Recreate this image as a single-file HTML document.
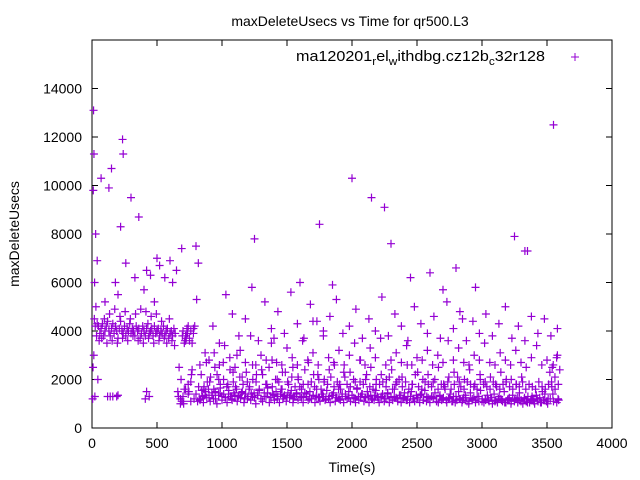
<!DOCTYPE html>
<html><head><meta charset="utf-8"><style>
body{margin:0;background:#fff;}
svg{display:block;font-family:"Liberation Sans",sans-serif;}
</style></head><body>
<svg id="chart" width="640" height="480" viewBox="0 0 640 480">
<text x="350" y="26" font-size="14" text-anchor="middle">maxDeleteUsecs vs Time for qr500.L3</text>
<rect x="92" y="40" width="520" height="388" fill="none" stroke="#000" stroke-width="1"/>
<g id="axes"></g>
<g id="marks"></g>
<text transform="translate(19,234) rotate(-90)" font-size="14" text-anchor="middle">maxDeleteUsecs</text>
<text x="352" y="472" font-size="14" text-anchor="middle">Time(s)</text>
<g>
<text x="296" y="61" font-size="15" textLength="249" lengthAdjust="spacingAndGlyphs">ma120201<tspan font-size="11" dy="4">r</tspan><tspan dy="-4">el</tspan><tspan font-size="11" dy="4">w</tspan><tspan dy="-4">ithdbg.cz12b</tspan><tspan font-size="11" dy="4">c</tspan><tspan dy="-4">32r128</tspan></text>
<path d="M571,57h8M575,53v8" stroke="#9400d3" stroke-width="1"/>
</g>
</svg>
<script>
const xTicks=[0,500,1000,1500,2000,2500,3000,3500,4000];
const yTicks=[0,2000,4000,6000,8000,10000,12000,14000];
const times=[5,10,12,15,18,20,22,25,28,30,8,14,35,40,45,
50,60,70,80,90,100,110,120,130,140,150,160,170,180,190,200,210,220,230,240,250,260,270,280,290,300,310,320,330,340,350,360,370,380,390,400,410,420,430,440,450,460,470,480,490,500,510,520,530,540,550,560,570,580,590,600,610,620,630,640,
55,75,95,115,135,155,175,195,215,235,255,275,295,315,335,355,375,395,415,435,455,475,495,515,535,555,575,595,615,635,
40,70,100,130,150,180,200,220,235,240,260,300,330,360,400,420,450,480,500,520,560,600,620,650,
120,140,160,190,200,410,420,440,
660,670,680,690,700,710,720,730,740,750,760,770,780,790,800,665,685,705,725,745,765,785,680,720,760,700,740,
800,825,850,875,900,925,950,975,1000,1025,1050,1075,1100,1125,1150,1175,1200,1225,1250,1275,1300,1325,1350,1375,1400,1425,1450,1475,1500,1525,1550,1575,1600,1625,1650,1675,1700,1725,1750,1775,1800,1825,1850,1875,1900,1925,1950,1975,2000,2025,2050,2075,2100,2125,2150,2175,2200,2225,2250,2275,2300,2325,2350,2375,2400,2425,2450,2475,2500,2525,2550,2575,2600,2625,2650,2675,2700,2725,2750,2775,2800,2825,2850,2875,2900,2925,2950,2975,3000,3025,3050,3075,3100,3125,3150,3175,3200,3225,3250,3275,3300,3325,3350,3375,3400,3425,3450,3475,3500,3525,3550,3575,3590,
812,837,862,887,912,937,962,987,1012,1037,1062,1087,1112,1137,1162,1187,1212,1237,1262,1287,1312,1337,1362,1387,1412,1437,1462,1487,1512,1537,1562,1587,1612,1637,1662,1687,1712,1737,1762,1787,1812,1837,1862,1887,1912,1937,1962,1987,2012,2037,2062,2087,2112,2137,2162,2187,2212,2237,2262,2287,2312,2337,2362,2387,2412,2437,2462,2487,2512,2537,2562,2587,2612,2637,2662,2687,2712,2737,2762,2787,2812,2837,2862,2887,2912,2937,2962,2987,3012,3037,3062,3087,3112,3137,3162,3187,3212,3237,3262,3287,3312,3337,3362,3387,3412,3437,3462,3487,3512,3537,3562,3587,
820,860,900,940,980,1020,1060,1100,1140,1180,1220,1260,1300,1340,1380,1420,1460,1500,1540,1580,1620,1660,1700,1740,1780,1820,1860,1900,1940,1980,2020,2060,2100,2140,2180,2220,2260,2300,2340,2380,2420,2460,2500,2540,2580,2620,2660,2700,2740,2780,2820,2860,2900,2940,2980,3020,3060,3100,3140,3180,3220,3260,3300,3340,3380,3420,3460,3500,3540,3580,
830,880,930,980,1030,1080,1130,1180,1230,1280,1330,1380,1430,1480,1530,1580,1630,1680,1730,1780,1830,1880,1930,1980,2030,2080,2130,2180,2230,2280,2330,2380,2430,2480,2530,2580,2630,2680,2730,2780,2830,2880,2930,2980,3030,3080,3130,3180,3230,3280,3330,3380,3430,3480,3530,3580,
1400,1700,2000,2150,2300,1750,2250,2800,3350,3330,3550,3250,2950,2450,2600,2850,1850,1250,1600,2700];
const values=[1200,9800,13100,11300,4500,6000,1300,4200,8000,5000,2500,3000,3800,4300,2000,
4200,3900,4100,4300,3800,4000,4200,4400,4000,3800,4100,4300,3900,4200,4000,3700,4100,4400,4000,3900,4200,3800,4100,4000,4300,3900,4100,4000,3800,4200,4000,4100,3700,3900,4200,4000,3800,4100,4300,3900,4000,4100,3800,4200,3900,4000,4100,3800,4000,3900,4200,3800,4000,4100,3700,3900,4000,3800,4100,3900,
3600,3700,4500,3500,4700,3600,4900,3500,4600,3700,4800,3600,4500,3800,4700,3600,4900,3500,4800,3700,4600,3500,4700,3600,4400,3700,3500,4500,3600,3400,
6900,10300,5200,9900,10700,6000,5500,8300,11900,11300,6800,9500,6200,8700,5700,6500,6300,5200,7000,6700,6200,6900,6000,6500,
1300,1300,1300,1300,1350,1200,1500,1300,
1500,2500,1200,7400,4000,3500,3800,4100,1800,3600,1100,2400,3900,4200,7500,1300,2000,1000,3700,1500,2200,1200,1000,1600,1900,1100,1400,
1400,1200,1300,1500,1250,1350,1200,1450,1300,1250,1400,1200,1350,1300,1450,1200,1300,1400,1250,1350,1200,1300,1450,1250,1350,1200,1400,1300,1250,1350,1200,1450,1300,1250,1400,1200,1350,1300,1250,1400,1200,1300,1350,1250,1200,1400,1300,1250,1350,1200,1300,1400,1250,1300,1200,1350,1250,1300,1200,1400,1250,1300,1200,1350,1250,1150,1300,1200,1250,1350,1150,1300,1200,1250,1100,1300,1200,1150,1250,1100,1300,1200,1150,1250,1100,1200,1150,1300,1100,1200,1150,1250,1100,1200,1150,1050,1200,1100,1150,1250,1100,1200,1050,1150,1100,1200,1050,1150,1100,1200,1100,1050,1150,1100,1200,
1700,1900,2100,1600,2200,1800,2000,1700,2400,1900,1600,2100,1800,2300,1700,2000,1900,1600,2200,1800,2500,1700,2000,1900,1600,2300,1800,2100,1700,2000,1600,2400,1800,1900,1700,2200,1600,2000,1800,2100,1700,1900,1600,2300,1800,1700,2000,1600,1900,1800,2200,1700,1600,2000,1800,1900,1700,2100,1600,1800,2000,1700,1900,1600,1800,2200,1700,1600,1900,1800,1700,2000,1600,1800,1700,1900,1600,1800,2100,1700,1600,1900,1800,1700,1600,2000,1800,1700,1600,1900,1700,1600,1800,2000,1700,1600,1800,1700,1900,1600,1800,1700,1600,1900,1700,1600,1800,1700,1600,1800,1700,1600,
2800,3100,2600,3400,2900,2500,3200,2700,3800,2600,3000,2800,3500,2700,2600,3300,2900,2600,3600,2800,3100,2600,4000,2900,2700,3200,2600,3000,3500,2800,2600,3300,2900,3700,2600,2800,3100,2700,3400,2600,2900,2800,3200,2600,3000,2700,3600,2800,3300,2700,2600,3000,2800,3500,2700,2600,3100,2800,2600,3200,2700,2500,2900,3400,2600,2800,2500,3000,2600,2700,
4200,3500,5500,4700,3800,4500,5800,3600,5200,4100,4800,3900,5600,4300,3700,5100,4400,3800,4600,5300,3900,4200,4900,3700,4500,4000,5400,3800,4700,4200,3600,5000,4300,3900,4600,3700,5200,4100,4800,3600,4400,3900,4700,3800,4300,5000,3700,4200,3600,4600,3900,4500,3800,4100,3700,4400,
10300,9500,7600,8400,9100,6600,7300,7300,12500,7900,5800,6200,6400,4500,5900,7800,6000,5700,5300,6800];
const bandTimes=[805,818,831,844,857,870,883,896,909,922,935,948,961,974,987,1000,1013,1026,1039,1052,1065,1078,1091,1104,1117,1130,1143,1156,1169,1182,1195,1208,1221,1234,1247,1260,1273,1286,1299,1312,1325,1338,1351,1364,1377,1390,1403,1416,1429,1442,1455,1468,1481,1494,1507,1520,1533,1546,1559,1572,1585,1598,1611,1624,1637,1650,1663,1676,1689,1702,1715,1728,1741,1754,1767,1780,1793,1806,1819,1832,1845,1858,1871,1884,1897,1910,1923,1936,1949,1962,1975,1988,2001,2014,2027,2040,2053,2066,2079,2092,2105,2118,2131,2144,2157,2170,2183,2196,2209,2222,2235,2248,2261,2274,2287,2300,2313,2326,2339,2352,2365,2378,2391,2404,2417,2430,2443,2456,2469,2482,2495,2508,2521,2534,2547,2560,2573,2586,2599,2612,2625,2638,2651,2664,2677,2690,2703,2716,2729,2742,2755,2768,2781,2794,2807,2820,2833,2846,2859,2872,2885,2898,2911,2924,2937,2950,2963,2976,2989,3002,3015,3028,3041,3054,3067,3080,3093,3106,3119,3132,3145,3158,3171,3184,3197,3210,3223,3236,3249,3262,3275,3288,3301,3314,3327,3340,3353,3366,3379,3392,3405,3418,3431,3444,3457,3470,3483,3496,3509,3522,3535,3548,3561,3574,3587,3598];
const bandValues=[1150,1550,1050,1350,1250,1600,1100,1450,1200,1500,1000,1350,1650,1150,1400,1250,1050,1550,1300,1150,1450,1700,1100,1350,1250,1500,1050,1400,1200,1600,1150,1300,1450,1000,1350,1550,1200,1100,1450,1300,1650,1050,1250,1400,1150,1500,1300,1050,1600,1200,1350,1100,1450,1250,1550,1050,1300,1400,1150,1700,1250,1050,1450,1300,1150,1500,1200,1350,1050,1600,1250,1100,1400,1300,1150,1550,1200,1050,1350,1450,1100,1250,1600,1150,1300,1050,1400,1200,1500,1100,1350,1250,1050,1650,1150,1300,1400,1100,1250,1500,1050,1350,1200,1150,1550,1300,1050,1250,1400,1100,1200,1450,1050,1300,1150,1600,1250,1100,1350,1050,1200,1450,1150,1300,1050,1500,1200,1100,1350,1250,1050,1400,1150,1550,1100,1250,1050,1300,1200,1450,1100,1050,1350,1150,1250,1600,1050,1200,1400,1100,1300,1050,1150,1500,1200,1050,1250,1350,1100,1000,1450,1150,1250,1050,1300,1100,1550,1200,1050,1150,1350,1100,1250,1000,1400,1150,1050,1300,1200,1100,1500,1050,1150,1250,1000,1350,1100,1200,1050,1450,1150,1000,1250,1100,1300,1050,1200,1150,1000,1350,1100,1250,1050,1150,1400,1100,1200];
const midTimes=[840,870,905,945,975,1010,1045,1085,1115,1155,1195,1235,1265,1305,1345,1385,1425,1465,1505,1545,1585,1625,1665,1705,1745,1785,1825,1865,1905,1945,1985,2025,2065,2105,2145,2185,2225,2265,2305,2345,2385,2425,2465,2505,2545,2585,2625,2665,2705,2745,2785,2825,2865,2905,2945,2985,3025,3065,3105,3145,3185,3225,3265,3305,3345,3385,3425,3465,3505,3545,3585,690,700,710,720,730,740,750,760,770,780,695,715,735,755,775,705,725,745,765,785];
const midValues=[2300,1900,2600,2100,2900,1800,2400,2200,3100,1900,2500,2000,2700,1800,2300,3000,2100,1900,2600,2200,2400,1800,2800,2000,2300,1900,2500,2100,1800,2700,2200,2000,1900,2400,2600,1800,2100,2300,1900,2800,2000,2500,1800,2200,2000,2400,1900,2100,2600,1800,2300,2000,2200,1900,2500,1800,2100,2300,1900,2000,2400,1800,2200,1900,2100,1800,2300,1900,2000,1800,2100,1100,1300,1200,1500,1000,1400,1200,1100,1300,1600,3600,3900,4200,3700,4000,3500,4100,3800,3600,3900];
const X0=92,X1=612,Y0=428,Y1=40,XMAX=4000,YMAX=16000;
const xs=v=>X0+(v/XMAX)*(X1-X0);
const ys=v=>Y0-(v/YMAX)*(Y0-Y1);
const NS="http://www.w3.org/2000/svg";
const axes=document.getElementById('axes');
const marks=document.getElementById('marks');
xTicks.forEach(t=>{
  const x=xs(t);
  const p=document.createElementNS(NS,'path');
  p.setAttribute('d',`M${x},${Y0}v-6M${x},${Y1}v6`);
  p.setAttribute('stroke','#000');
  
  
  axes.appendChild(p);
  const tx=document.createElementNS(NS,'text');
  tx.setAttribute('x',x);tx.setAttribute('y',448);
  tx.setAttribute('font-size','14');tx.setAttribute('text-anchor','middle');
  
  
  tx.textContent=t;axes.appendChild(tx);
});
yTicks.forEach(t=>{
  const y=ys(t);
  const p=document.createElementNS(NS,'path');
  p.setAttribute('d',`M${X0},${y}h6M${X1},${y}h-6`);
  p.setAttribute('stroke','#000');
  
  
  axes.appendChild(p);
  const tx=document.createElementNS(NS,'text');
  tx.setAttribute('x',82);tx.setAttribute('y',y+5);
  tx.setAttribute('font-size','14');tx.setAttribute('text-anchor','end');
  
  
  tx.textContent=t;axes.appendChild(tx);
});
const allT=times.concat(bandTimes,midTimes);
const allV=values.concat(bandValues,midValues);
let d='';
for(let i=0;i<allT.length&&i<allV.length;i++){
  const x=xs(allT[i]),y=ys(allV[i]);
  d+=`M${x-4},${y}h8M${x},${y-4}v8`;
}
const pts=document.createElementNS(NS,'path');
pts.setAttribute('d',d);
pts.setAttribute('stroke','#9400d3');
pts.setAttribute('fill','none');
pts.setAttribute('stroke-width','1.2');


marks.appendChild(pts);
</script>
</body></html>
